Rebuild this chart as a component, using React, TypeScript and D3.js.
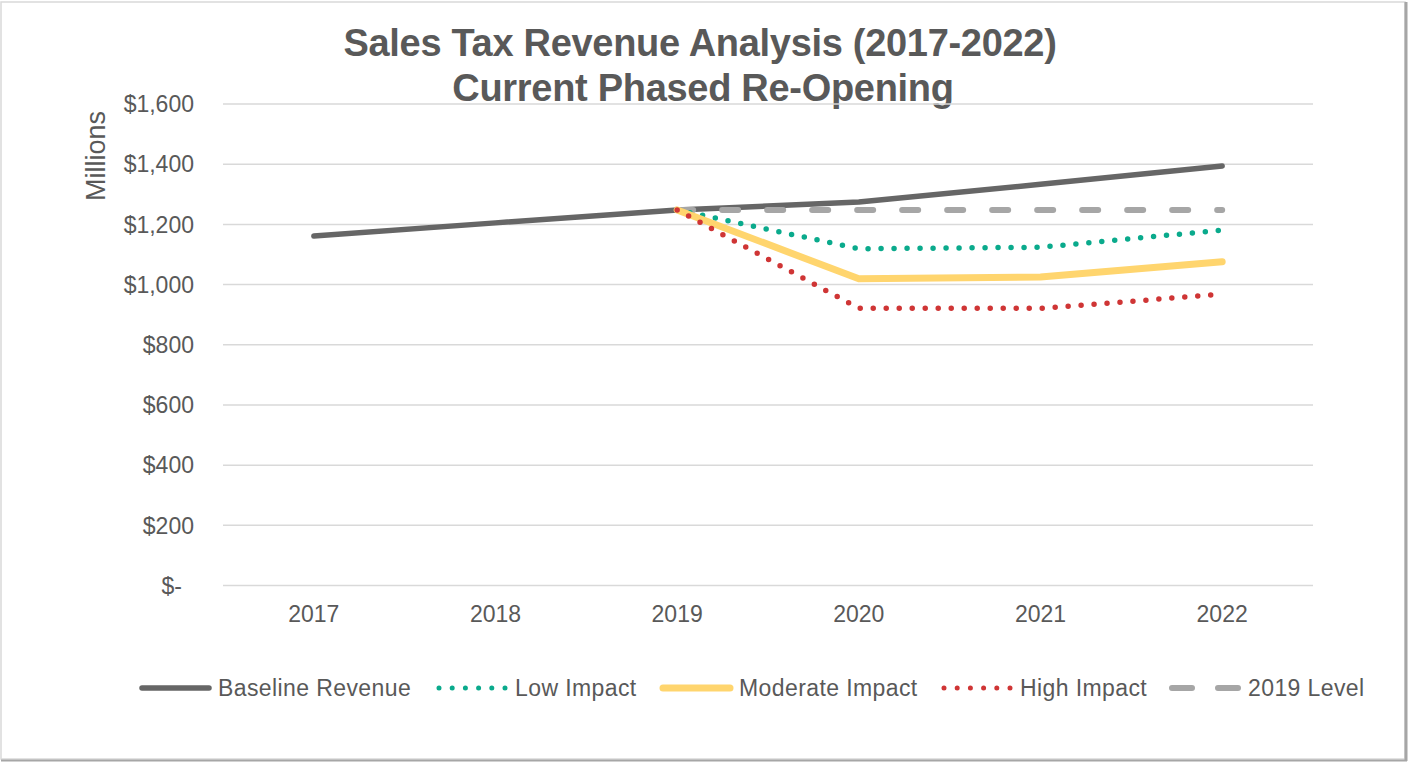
import React from "react";
import * as d3 from "d3";

const years = ["2017", "2018", "2019", "2020", "2021", "2022"];
const baseline = [1161, 1205, 1248, 1274, 1333, 1394];
const lowImpact = [null, null, 1248, 1119, 1124, 1181];
const moderateImpact = [null, null, 1248, 1019, 1025, 1076];
const highImpact = [null, null, 1248, 921, 921, 968];
const level2019 = [null, null, 1248, 1248, 1248, 1248];
const yTicks = [0, 200, 400, 600, 800, 1000, 1200, 1400, 1600];
const titleLines = ["Sales Tax Revenue Analysis (2017-2022)", "Current Phased Re-Opening"];

const W = 1409;
const H = 763;
const TEXT = "#595959";
const FONT = "'Liberation Sans', Arial, sans-serif";

type Series = {
  name: string;
  values: (number | null)[];
  color: string;
  width: number;
  dash?: string;
  legendX: number;
};

const series: Series[] = [
  { name: "Baseline Revenue", values: baseline, color: "#666666", width: 5.5, legendX: 139 },
  { name: "2019 Level", values: level2019, color: "#A6A6A6", width: 6, dash: "16 29", legendX: 1169 },
  { name: "Low Impact", values: lowImpact, color: "#0AAA8C", width: 5.5, dash: "0 13", legendX: 436 },
  { name: "Moderate Impact", values: moderateImpact, color: "#FFD56E", width: 7, legendX: 660 },
  { name: "High Impact", values: highImpact, color: "#CF3535", width: 5.5, dash: "0 13", legendX: 941 },
];
const legendOrder = ["Baseline Revenue", "Low Impact", "Moderate Impact", "High Impact", "2019 Level"];

export default function App() {
  const x = d3.scaleBand<string>().domain(years).range([223, 1313]).padding(0);
  const y = d3.scaleLinear().domain([0, 1600]).range([585.5, 104]);
  const cx = (yr: string) => (x(yr) as number) + x.bandwidth() / 2;

  const line = d3
    .line<{ yr: string; v: number | null }>()
    .defined((d) => d.v !== null)
    .x((d) => cx(d.yr))
    .y((d) => y(d.v as number));

  const legendY = 688;
  const symLen = 73;

  return (
    <svg
      width={W}
      height={H}
      style={{ position: "absolute", left: 0, top: 0, background: "#fff" }}
      fontFamily={FONT}
    >
      <rect x={0} y={0} width={W} height={H} fill="#fff" />
      <rect x={1} y={2} width={1404} height={757} fill="none" stroke="#D9D9D9" strokeWidth={1.5} />
      <line x1={1406} y1={2} x2={1406} y2={761} stroke="#A6A6A6" strokeWidth={3} />
      <line x1={1} y1={760.5} x2={1407} y2={760.5} stroke="#A6A6A6" strokeWidth={2} />

      {/* Title */}
      <text x={700} y={56} textAnchor="middle" fontSize={38} fontWeight="bold" fill={TEXT} letterSpacing={-0.3}>
        {titleLines[0]}
      </text>
      <text x={703} y={101} textAnchor="middle" fontSize={38} fontWeight="bold" fill={TEXT} letterSpacing={-0.3}>
        {titleLines[1]}
      </text>

      {/* gridlines + y labels */}
      {yTicks.map((t) => (
        <g key={t}>
          <line x1={223} x2={1313} y1={y(t)} y2={y(t)} stroke="#D9D9D9" strokeWidth={1.5} />
          <text
            x={t === 0 ? 182 : 194}
            y={y(t)}
            dy="0.36em"
            textAnchor="end"
            fontSize={23}
            fill={TEXT}
          >
            {t === 0 ? "$-" : "$" + d3.format(",")(t)}
          </text>
        </g>
      ))}

      {/* y axis title */}
      <text
        transform={`translate(105,156) rotate(-90)`}
        textAnchor="middle"
        fontSize={27}
        fill={TEXT}
      >
        Millions
      </text>

      {/* x labels */}
      {years.map((yr) => (
        <text key={yr} x={cx(yr)} y={622} textAnchor="middle" fontSize={23} fill={TEXT}>
          {yr}
        </text>
      ))}

      {/* series */}
      {series.map((s) => (
        <path
          key={s.name}
          d={line(years.map((yr, i) => ({ yr, v: s.values[i] }))) || ""}
          fill="none"
          stroke={s.color}
          strokeWidth={s.width}
          strokeLinecap="round"
          strokeLinejoin="round"
          strokeDasharray={s.dash}
        />
      ))}

      {/* legend */}
      {legendOrder.map((n) => {
        const s = series.find((q) => q.name === n)!;
        const isLevel = n === "2019 Level";
        return (
          <g key={n}>
            <line
              x1={s.legendX + 3}
              x2={s.legendX + symLen - 3}
              y1={legendY}
              y2={legendY}
              stroke={s.color}
              strokeWidth={isLevel ? 6 : s.dash ? 5 : s.width}
              strokeLinecap="round"
              strokeDasharray={isLevel ? "20 26" : s.dash === "0 13" ? "0 13.2" : undefined}
            />
            <text
              x={s.legendX + symLen + 6}
              y={legendY}
              dy="0.36em"
              fontSize={23}
              fill={TEXT}
              letterSpacing={0.4}
            >
              {n}
            </text>
          </g>
        );
      })}
    </svg>
  );
}
